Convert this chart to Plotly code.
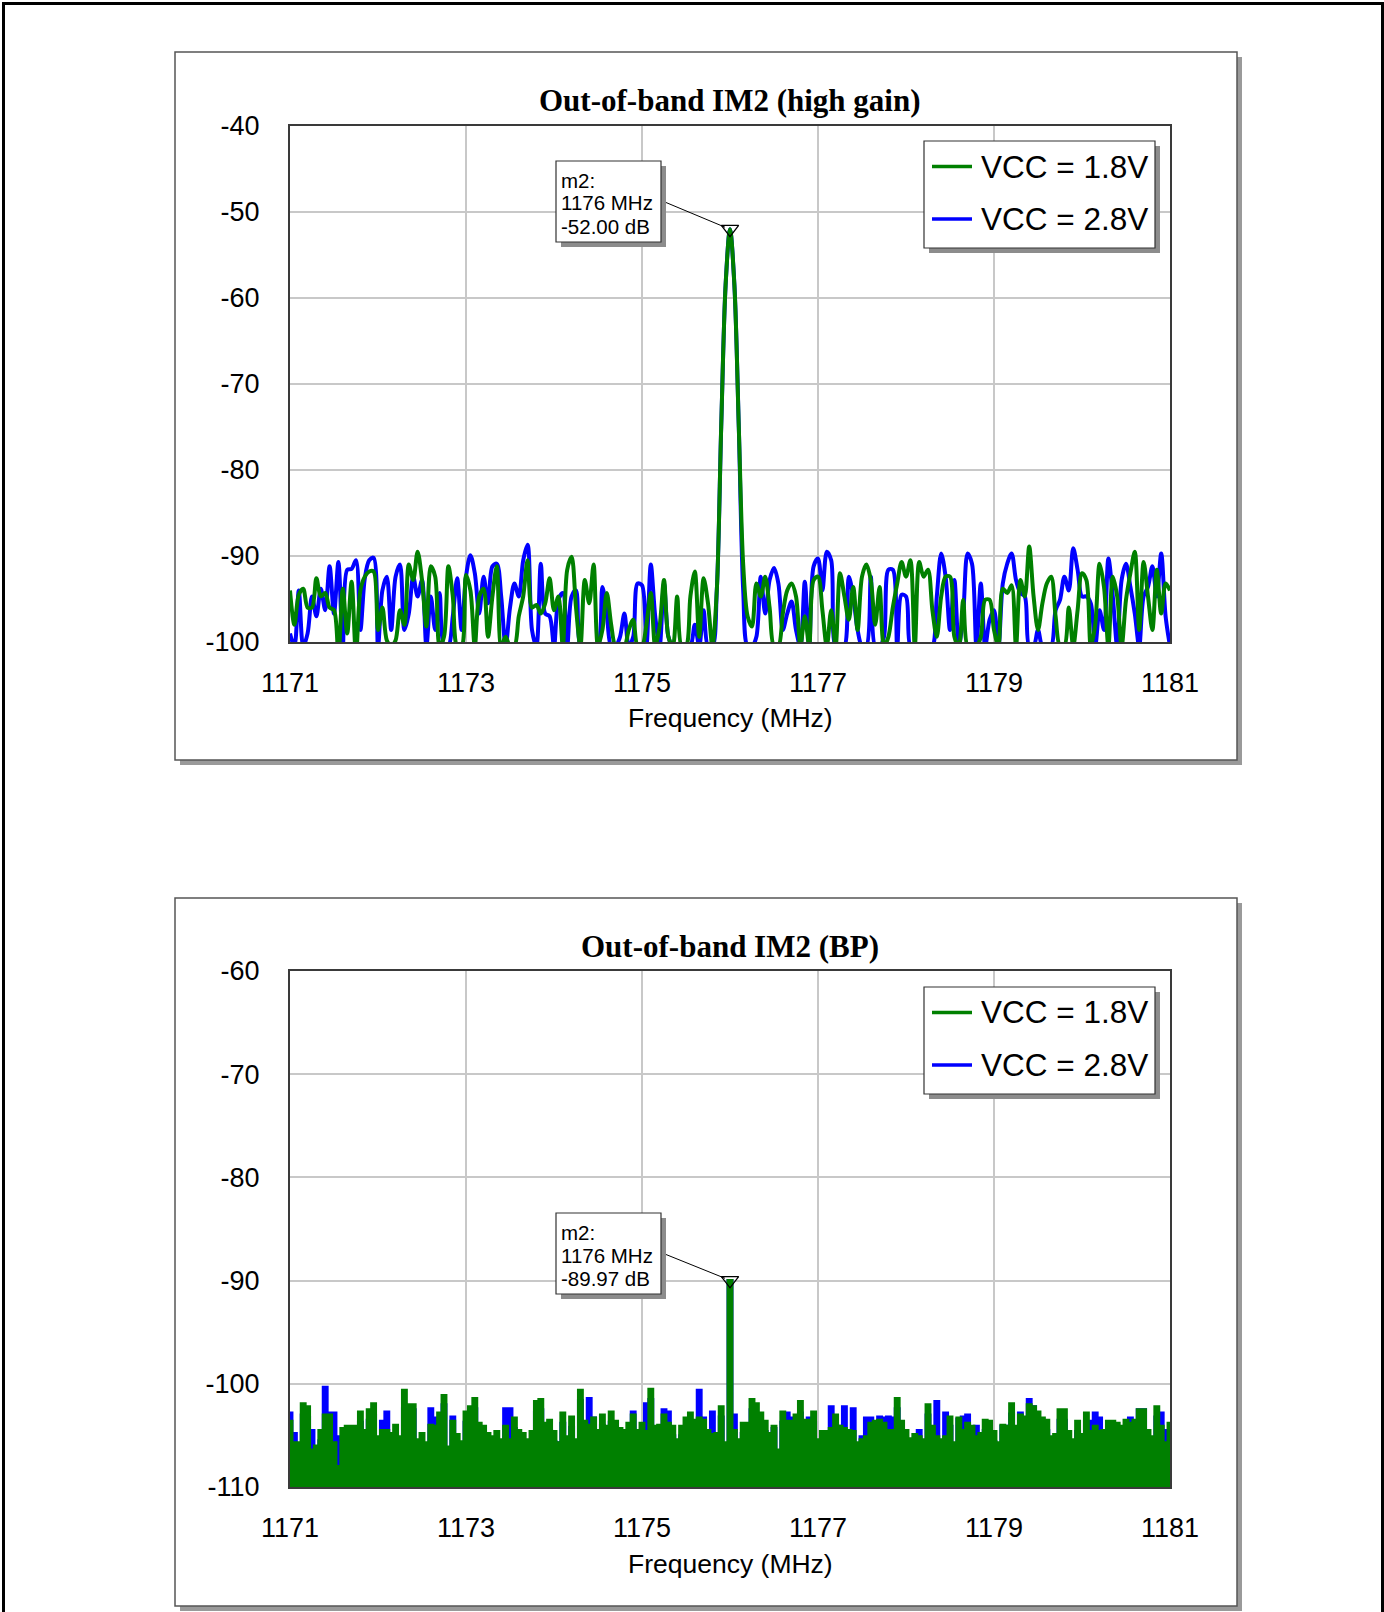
import numpy as np
import plotly.graph_objects as go

# ---------------- data ----------------
F_START = 1171.0
F_STEP = 0.05

x_tickvals = [1171, 1173, 1175, 1177, 1179, 1181]
x_ticktext = ["1171", "1173", "1175", "1177", "1179", "1181"]
y_tickvals_top = [-100, -90, -80, -70, -60, -50, -40]
y_ticktext_top = ["-100", "-90", "-80", "-70", "-60", "-50", "-40"]
y_tickvals_bot = [-110, -100, -90, -80, -70, -60]
y_ticktext_bot = ["-110", "-100", "-90", "-80", "-70", "-60"]

series_names = ["VCC = 1.8V", "VCC = 2.8V"]

# Top chart: Out-of-band IM2 (high gain), dB, 0.05 MHz steps from 1171 MHz
top_vcc18 = [
    -94, -98, -94.5, -93.8, -96, -96, -92.6, -94.7, -94.3, -96,
    -96.3, -101.5, -93.8, -99, -93, -101.5, -94, -92.4, -91.8, -91.8,
    -98.6, -96, -99.8, -100.5, -99.8, -96.3, -98, -91, -92.8, -89.5,
    -92.8, -98.2, -91.2, -92.4, -100.5, -99.4, -91.2, -94.7, -100.5, -100.5,
    -92.2, -94, -100.5, -94.7, -93.8, -99.4, -94.7, -91.2, -100.5, -99.4,
    -100.5,
    -100.5, -97, -94.7, -90.5, -96, -95.7, -96.7, -95.5, -92.6, -96.3,
    -94.7, -100.5, -91.6, -90.1, -96, -100.5, -92.8, -95.5, -91, -100.5,
    -98.6, -94.3, -98, -100.5, -100.5, -100.5, -98.6, -97.4, -100.5, -100.5,
    -98, -94.3, -100.5, -98.2, -92.8, -99.4, -100.5, -94.7, -100.5, -100.5,
    -94.7, -91.8, -99.4, -92.6, -95.5, -100.5, -94, -75, -58.5,
    -52, -58.5, -75, -91, -97, -98.2, -93.2, -94.7, -92.4, -96,
    -100.5, -100.5, -96.7, -94, -93.2, -94.7, -100.5, -97, -100.5, -92.8,
    -92.4, -96.3, -100.5, -96.3, -100.5, -92, -94.7, -97.4, -93.6, -98.6,
    -92.4, -91, -92.8, -98, -93.6, -100.5, -99.4, -96, -93.2, -90.7,
    -92.4, -90.5, -100.5, -90.7, -92.4, -91.6, -96.3, -99.4, -94.7, -92.4,
    -92.4, -99.4, -100.5, -95.1, -100.5, -100.5, -100.5, -99.4, -95.1, -95.1,
    -98.6, -100.5, -93.8, -94.3, -93.4, -100.5, -92.8, -94.7, -88.9, -94.7,
    -98.6, -95.5, -93.2, -92.4, -97, -100.5, -100.5, -96, -100.5, -96.3,
    -92, -92.8, -100.5, -98, -90.9, -93.6, -100.5, -92.4, -94.7, -100.5,
    -95.1, -92, -89.5, -98.6, -90.7, -94.7, -98.6, -91.6, -96.7, -93.2,
    -94,
]
top_vcc28 = [
    -99, -100.5, -94, -100.5, -99, -94.7, -97, -93.8, -96.3, -91.2,
    -96.7, -90.7, -100.5, -91.6, -91.5, -90.5, -98.6, -92.6, -90.5, -90.2,
    -100.5, -94, -92.4, -98.6, -92.4, -91, -98.6, -96.7, -92.4, -94.7,
    -92.8, -100.5, -94.7, -98.6, -94.3, -100.5, -100.5, -97, -92.6, -98.6,
    -92.4, -89.9, -92, -96.7, -92.4, -95.5, -91.2, -90.9, -94.7, -100.5,
    -96,
    -93.2, -94.7, -90.5, -88.7, -98.6, -100.5, -90.9, -96.7, -97, -100.5,
    -95.1, -94.3, -100.5, -94.7, -94, -100.5, -100.5, -100.5, -100.5, -100.5,
    -93.6, -96.7, -100.5, -100.5, -99.4, -96.7, -100.5, -99.4, -93.2, -93.4,
    -100.5, -91, -97, -100.5, -93.2, -99.4, -100.5, -100.5, -100.5, -100.5,
    -100.5, -98, -100.5, -96.3, -100.5, -100.5, -94, -75, -58.5,
    -52, -58.5, -75, -94, -100.5, -100.5, -99.4, -92.4, -96.7, -92.8,
    -91.4, -93.2, -98.6, -96.7, -95.3, -98.6, -100.5, -93, -100.5, -91.2,
    -90.3, -94, -89.5, -90.5, -100.5, -100.5, -100.5, -92.4, -94.7, -98.6,
    -100.5, -100.5, -92.4, -100.5, -100.5, -99.4, -91.6, -91.6, -100.5, -94.5,
    -94.7, -100.5, -100.5, -100.5, -100.5, -100.5, -100.5, -94.7, -89.7, -92.4,
    -98.6, -92.8, -100.5, -96.7, -89.7, -90.9, -100.5, -93.2, -100.5, -97.4,
    -96.3, -100.5, -93.2, -90.9, -89.7, -92.8, -94.3, -94.7, -100.5, -100.5,
    -98.6, -100.5, -100.5, -100.5, -96.3, -95.1, -92.4, -94, -89.1, -91.6,
    -94.7, -94.7, -95.5, -100.5, -96.3, -98.6, -90.3, -94.7, -100.5, -92.8,
    -90.9, -93.6, -96.7, -100.5, -94.7, -93.6, -91.2, -94.7, -89.7, -97,
    -100.5,
]

# Bottom chart: Out-of-band IM2 (BP), dB envelope, 0.05 MHz steps from 1171 MHz
bot_vcc18 = [
    -103.6, -105.7, -105.7, -101.9, -102.2, -106.4, -106, -104.5, -103, -103,
    -105.7, -108, -104.3, -104.1, -104.1, -104.1, -102.7, -104.5, -102.5, -101.9,
    -105.1, -104.5, -104.5, -104.8, -104, -105.1, -100.6, -102, -102, -105.4,
    -104.8, -105.7, -104, -104.1, -102.8, -101.1, -106.1, -103.6, -104.9, -105.6,
    -102.7, -102.2, -101.4, -103.8, -104.1, -104.8, -105.1, -104.6, -105.4, -104.1,
    -105.4, -103.3, -104.5, -104.8, -105.4, -104.6, -101.7, -101.5, -103.8, -103.5,
    -104.6, -105.7, -102.8, -105.1, -103.2, -105.4, -100.6, -103.6, -104, -103.3,
    -104.5, -103, -104.1, -102.7, -103.6, -104.3, -104.5, -103.8, -103, -104.5,
    -103.8, -104.6, -100.5, -104.1, -104, -103, -103.8, -104.1, -105.4, -104.1,
    -103.3, -102.8, -103.5, -103.3, -103.5, -104.5, -104.9, -104.8, -102.2, -105.7,
    -89.97,
    -104.5, -105.4, -103.8, -103.8, -101.5, -101.9, -102.8, -103.6, -104.8, -104.1,
    -106.4, -102.7, -103.6, -103.6, -103, -101.7, -103.5, -103.5, -102.7, -105.4,
    -104.6, -104.6, -104.3, -103, -104.1, -104.3, -104.5, -104.6, -105.7, -105.4,
    -105.1, -103.8, -103.6, -103.5, -103.8, -104.5, -104.5, -101.4, -103.6, -104.5,
    -105.3, -104.9, -105.1, -105.4, -102, -104.1, -105.1, -105.4, -105.1, -103.2,
    -105.7, -103.3, -104.5, -103.8, -104.1, -105.1, -104.8, -103.5, -103.6, -104.6,
    -105.7, -104, -104.1, -101.9, -104.1, -103, -103.2, -102, -102.2, -102.7,
    -103.3, -103.5, -105.1, -104.9, -102.5, -102.5, -104.6, -105.4, -103.6, -104.9,
    -102.8, -104.6, -104.1, -104.6, -104.5, -103.6, -103.6, -103.8, -104.1, -103.5,
    -103.8, -103.5, -102.5, -102.5, -104.5, -105.1, -102.2, -104.1, -105.7, -103.8,
]
bot_vcc28 = [
    -102.8, -104.8, -106.5, -103, -103.2, -104.5, -107, -105.5, -100.3, -102.8,
    -102.8, -105.1, -105.3, -105, -105, -105, -103.7, -105.5, -103.5, -103,
    -106, -103.6, -102.7, -105.8, -105, -106, -102.4, -103, -102.5, -106.3,
    -105.8, -106.7, -102.4, -103.3, -103.8, -102, -107, -103.2, -105.9, -106.5,
    -103.7, -103.2, -102.4, -104.8, -105, -105.8, -106, -105.6, -106.4, -102.4,
    -102.4, -104.3, -105.5, -105.8, -106.4, -105.6, -102.7, -102.5, -104.3, -104.5,
    -105.6, -105.7, -103.8, -106, -104.2, -106.4, -101.6, -104.6, -101.4, -103.3,
    -105.5, -104, -105, -103.7, -104.6, -105.3, -105.5, -104.8, -102.7, -105.5,
    -104.8, -101.9, -101.5, -105, -105, -102.5, -102.7, -105, -106.4, -105,
    -104.3, -103.8, -104.5, -100.6, -103.3, -105.5, -102.7, -105.8, -103.2, -106.7,
    -89.97,
    -103, -106.4, -104.8, -104.8, -102.5, -102.9, -103.8, -104.6, -105.8, -104.3,
    -107.4, -103.7, -102.8, -103.3, -104, -102.8, -104.5, -103.3, -103.7, -106.4,
    -105.6, -105.6, -102.2, -104, -104.1, -102.2, -105.5, -102.4, -106.7, -105.1,
    -103.3, -103.3, -104.6, -103.2, -103.3, -103.2, -103.3, -102.4, -104.6, -105.5,
    -106.3, -105.9, -104.5, -106.4, -103, -105.1, -101.7, -106.4, -102.8, -104.1,
    -106.7, -103.4, -103.2, -103, -105.1, -104.1, -105.8, -104.5, -104.6, -105.6,
    -106.7, -104.1, -104.1, -102.9, -105.1, -102.8, -104.2, -101.5, -102.2, -103.7,
    -104.3, -104.5, -106.1, -105.9, -103.5, -103.5, -105.6, -106.4, -104.6, -105.9,
    -103.6, -103.6, -102.8, -103.3, -105.5, -104.6, -104.6, -104.8, -105.1, -104.5,
    -103.3, -104.5, -102.5, -102.5, -105.5, -106.1, -103.2, -102.8, -104.5, -104.8,
]

marker_freq = 1176
marker_top_db = -52.00
marker_bot_db = -89.97
bot_floor = -120  # fill baseline for the dense noise floor

GREEN = "#008000"
BLUE = "#0000ff"
SANS = "Liberation Sans, Arial, sans-serif"
SERIF = "Liberation Serif, Times New Roman, serif"

W, H = 1384, 1612


def px(x):
    return x / W


def py(y):
    return 1 - y / H


def freqs(vals):
    return np.round(F_START + F_STEP * np.arange(len(vals)), 4)


fig = go.Figure()

# ---- top chart traces (blue underneath, green on top) ----
fig.add_trace(go.Scatter(x=freqs(top_vcc28), y=top_vcc28, mode="lines", name=series_names[1],
                         line=dict(color=BLUE, width=4, shape="spline", smoothing=0.9),
                         xaxis="x", yaxis="y", showlegend=False))
fig.add_trace(go.Scatter(x=freqs(top_vcc18), y=top_vcc18, mode="lines", name=series_names[0],
                         line=dict(color=GREEN, width=4, shape="spline", smoothing=0.9),
                         xaxis="x", yaxis="y", showlegend=False))
fig.add_trace(go.Scatter(x=[marker_freq], y=[marker_top_db], mode="markers", name="m2",
                         marker=dict(symbol="triangle-down-open", size=15, color="#000",
                                     line=dict(width=1.3, color="#000")),
                         xaxis="x", yaxis="y", showlegend=False))

# ---- bottom chart traces (filled dense floor) ----
for vals, color, name in [(bot_vcc28, BLUE, series_names[1]), (bot_vcc18, GREEN, series_names[0])]:
    fx = freqs(vals)
    fig.add_trace(go.Scatter(x=fx, y=[bot_floor] * len(vals), mode="lines",
                             line=dict(width=0, color=color, shape="hvh"),
                             xaxis="x2", yaxis="y2", showlegend=False, hoverinfo="skip"))
    fig.add_trace(go.Scatter(x=fx, y=vals, mode="lines", name=name, fill="tonexty",
                             fillcolor=color, line=dict(color=color, width=2.5, shape="hvh"),
                             xaxis="x2", yaxis="y2", showlegend=False))
fig.add_trace(go.Scatter(x=[marker_freq], y=[marker_bot_db], mode="markers", name="m2",
                         marker=dict(symbol="triangle-down-open", size=15, color="#000",
                                     line=dict(width=1.3, color="#000")),
                         xaxis="x2", yaxis="y2", showlegend=False))

shapes = []
annotations = []


def rect(x0, y0, x1, y1, fill, line_color=None, lw=0, layer="below"):
    shapes.append(dict(type="rect", xref="paper", yref="paper",
                       x0=px(x0), x1=px(x1), y0=py(y1), y1=py(y0),
                       fillcolor=fill, layer=layer,
                       line=dict(color=line_color or fill, width=lw)))


def line(x0, y0, x1, y1, color, lw, layer="above"):
    shapes.append(dict(type="line", xref="paper", yref="paper",
                       x0=px(x0), x1=px(x1), y0=py(y0), y1=py(y1), layer=layer,
                       line=dict(color=color, width=lw)))


def text(x, y, s, size, family=SANS, xanchor="left", bold=False):
    annotations.append(dict(xref="paper", yref="paper", x=px(x), y=py(y), text=("<b>%s</b>" % s) if bold else s,
                            showarrow=False, xanchor=xanchor, yanchor="middle",
                            font=dict(family=family, size=size, color="#000")))


# outer frame
shapes.append(dict(type="rect", xref="paper", yref="paper", x0=px(3.5), x1=px(1382.5), y0=py(1625), y1=py(3.5),
                   line=dict(color="#000", width=3), fillcolor="rgba(0,0,0,0)", layer="below"))

panels = [(52, 760, "Out-of-band IM2 (high gain)", 101), (898, 1606, "Out-of-band IM2 (BP)", 946)]
for top, bot, title, ty in panels:
    rect(180, top + 5, 1242, bot + 5, "#9a9a9a")
    rect(175, top, 1237, bot, "#ffffff", "#555555", 1.5)
    text(730, ty, title, 31, SERIF, "center", bold=True)
    text(730, bot - 42, "Frequency (MHz)", 26.5, SANS, "center")

# legends (drawn, one per chart)
for ltop in [141, 987]:
    rect(929, ltop + 5, 1160, ltop + 112, "#8c8c8c", layer="above")
    rect(924, ltop, 1155, ltop + 107, "#ffffff", "#333333", 1.2, layer="above")
    for k, (nm, col) in enumerate([(series_names[0], GREEN), (series_names[1], BLUE)]):
        yy = ltop + 25.5 + 52.5 * k
        line(932, yy, 972, yy, col, 3.5)
        text(979, yy, nm, 31.5)

# marker callouts
for btop, mdb, ptop, pbot, vtop, vbot in [(161, marker_top_db, 126, 642, -40, -100),
                                          (1213, marker_bot_db, 971, 1487, -60, -110)]:
    my = ptop + (vtop - mdb) / (vtop - vbot) * (pbot - ptop)
    mx = 290 + (marker_freq - 1171) / 10 * 880
    line(666, btop + 41.5, mx - 5, my - 2, "#000", 1)
    rect(561, btop + 5, 666, btop + 86, "#8c8c8c", layer="above")
    rect(556, btop, 661, btop + 81, "#ffffff", "#333333", 1.2, layer="above")
    text(559, btop + 19, "m2:", 20.5)
    text(559, btop + 42, "%d MHz" % marker_freq, 20.5)
    text(559, btop + 65, "%.2f dB" % mdb, 20.5)

axis_common = dict(showgrid=True, gridcolor="#c8c8c8", gridwidth=1.5, showline=True, mirror=True,
                   linecolor="#3a3a3a", linewidth=2, zeroline=False, ticks="", automargin=False,
                   tickfont=dict(family=SANS, size=27, color="#000"))

fig.update_layout(
    width=W, height=H, autosize=False,
    margin=dict(l=0, r=0, t=0, b=0, pad=0, autoexpand=False),
    paper_bgcolor="white", plot_bgcolor="white", showlegend=False,
    shapes=shapes, annotations=annotations,
    xaxis=dict(domain=[px(290), px(1170)], anchor="y", range=[1171, 1181],
               tickvals=x_tickvals, ticktext=x_ticktext, ticklabelstandoff=16, **axis_common),
    yaxis=dict(domain=[py(642), py(126)], anchor="x", range=[-100, -40],
               tickvals=y_tickvals_top, ticktext=y_ticktext_top, ticklabelstandoff=23, **axis_common),
    xaxis2=dict(domain=[px(290), px(1170)], anchor="y2", range=[1171, 1181],
                tickvals=x_tickvals, ticktext=x_ticktext, ticklabelstandoff=16, **axis_common),
    yaxis2=dict(domain=[py(1487), py(971)], anchor="x2", range=[-110, -60],
                tickvals=y_tickvals_bot, ticktext=y_ticktext_bot, ticklabelstandoff=23, **axis_common),
)

fig.write_html("out.html", config={"displayModeBar": False},
               post_script="document.body.style.margin='0';document.body.style.overflow='hidden';")
